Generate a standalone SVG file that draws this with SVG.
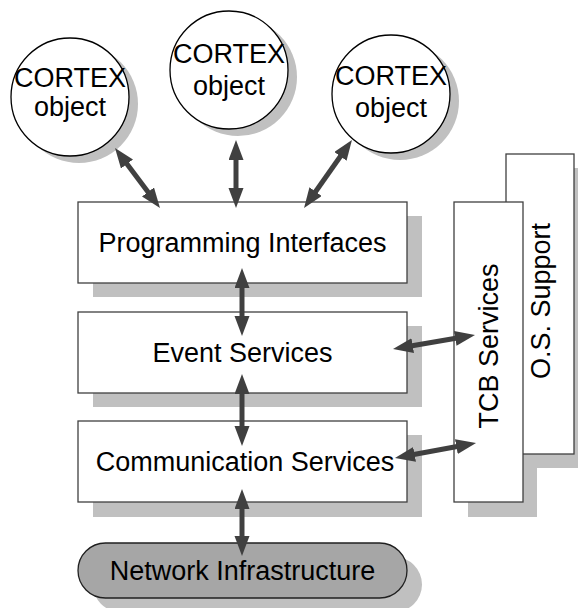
<svg xmlns="http://www.w3.org/2000/svg" width="578" height="608" viewBox="0 0 578 608">
<style>
.shadow{fill:#c0c0c0;stroke:none}
.box{fill:#ffffff;stroke:#404040;stroke-width:1.3}
.circ{fill:#ffffff;stroke:#000000;stroke-width:1.3}
.net{fill:#a6a6a6;stroke:#202020;stroke-width:1.3}
.lbl{font-family:"Liberation Sans",Arial,sans-serif;font-size:27px;fill:#000000;text-anchor:middle}
.conn{stroke:#404040;stroke-width:5;fill:none;marker-start:url(#ah);marker-end:url(#ah)}
</style>
<defs>
<marker id="ah" markerUnits="userSpaceOnUse" markerWidth="22" markerHeight="16" refX="5" refY="7.5" orient="auto-start-reverse" viewBox="0 0 22 16">
<path d="M0,0 L20,7.5 L0,15 z" fill="#404040"/>
</marker>
</defs>
<rect width="578" height="608" fill="#ffffff"/>

<g id="cortex1">
<circle class="shadow" cx="79" cy="104" r="59"/>
<circle class="circ" cx="70" cy="97" r="59"/>
<text class="lbl" x="70" y="87">CORTEX</text>
<text class="lbl" x="70" y="116">object</text>
</g>
<g id="cortex2">
<circle class="shadow" cx="238" cy="77" r="59"/>
<circle class="circ" cx="229" cy="70" r="59"/>
<text class="lbl" x="229" y="63">CORTEX</text>
<text class="lbl" x="229" y="95">object</text>
</g>
<g id="cortex3">
<circle class="shadow" cx="400" cy="101" r="59"/>
<circle class="circ" cx="391" cy="94" r="59"/>
<text class="lbl" x="391" y="85">CORTEX</text>
<text class="lbl" x="391" y="117">object</text>
</g>

<rect id="tcb-shadow" class="shadow" x="468" y="216" width="69" height="301"/>
<g id="os-support">
<rect class="shadow" x="520" y="168" width="68" height="300"/>
<rect class="box" x="506" y="154" width="68" height="300"/>
<text class="lbl" transform="translate(550,301) rotate(-90)">O.S. Support</text>
</g>
<g id="tcb-services">
<rect class="box" x="454" y="202" width="69" height="300"/>
<text class="lbl" transform="translate(498,346) rotate(-90)">TCB Services</text>
</g>

<g id="programming-interfaces">
<rect class="shadow" x="93" y="216" width="329" height="81"/>
<rect class="box" x="78" y="202" width="329" height="81"/>
<text class="lbl" x="242.5" y="252">Programming Interfaces</text>
</g>
<g id="event-services">
<rect class="shadow" x="93" y="326" width="329" height="81"/>
<rect class="box" x="78" y="312" width="329" height="81"/>
<text class="lbl" x="242.5" y="362">Event Services</text>
</g>
<g id="communication-services">
<rect class="shadow" x="93" y="435" width="329" height="82"/>
<rect class="box" x="78" y="421" width="329" height="81"/>
<text class="lbl" x="245" y="471">Communication Services</text>
</g>
<g id="network-infrastructure">
<rect class="shadow" x="93" y="557" width="329" height="55" rx="27.5" ry="27.5"/>
<rect class="net" x="78" y="543" width="329" height="55" rx="27.5" ry="27.5"/>
<text class="lbl" x="242.5" y="580">Network Infrastructure</text>
</g>

<g id="connectors">
<line class="conn" x1="124" y1="160" x2="151" y2="196"/>
<line class="conn" x1="236" y1="155" x2="236" y2="193"/>
<line class="conn" x1="343.3" y1="152.3" x2="312.7" y2="195.7"/>
<line class="conn" x1="242" y1="283" x2="242" y2="321"/>
<line class="conn" x1="242" y1="389" x2="242" y2="431"/>
<line class="conn" x1="242" y1="504" x2="242" y2="541"/>
<line class="conn" x1="407.8" y1="346.5" x2="460.2" y2="337.5"/>
<line class="conn" x1="409.7" y1="455.3" x2="461.3" y2="445.7"/>
</g>
</svg>
